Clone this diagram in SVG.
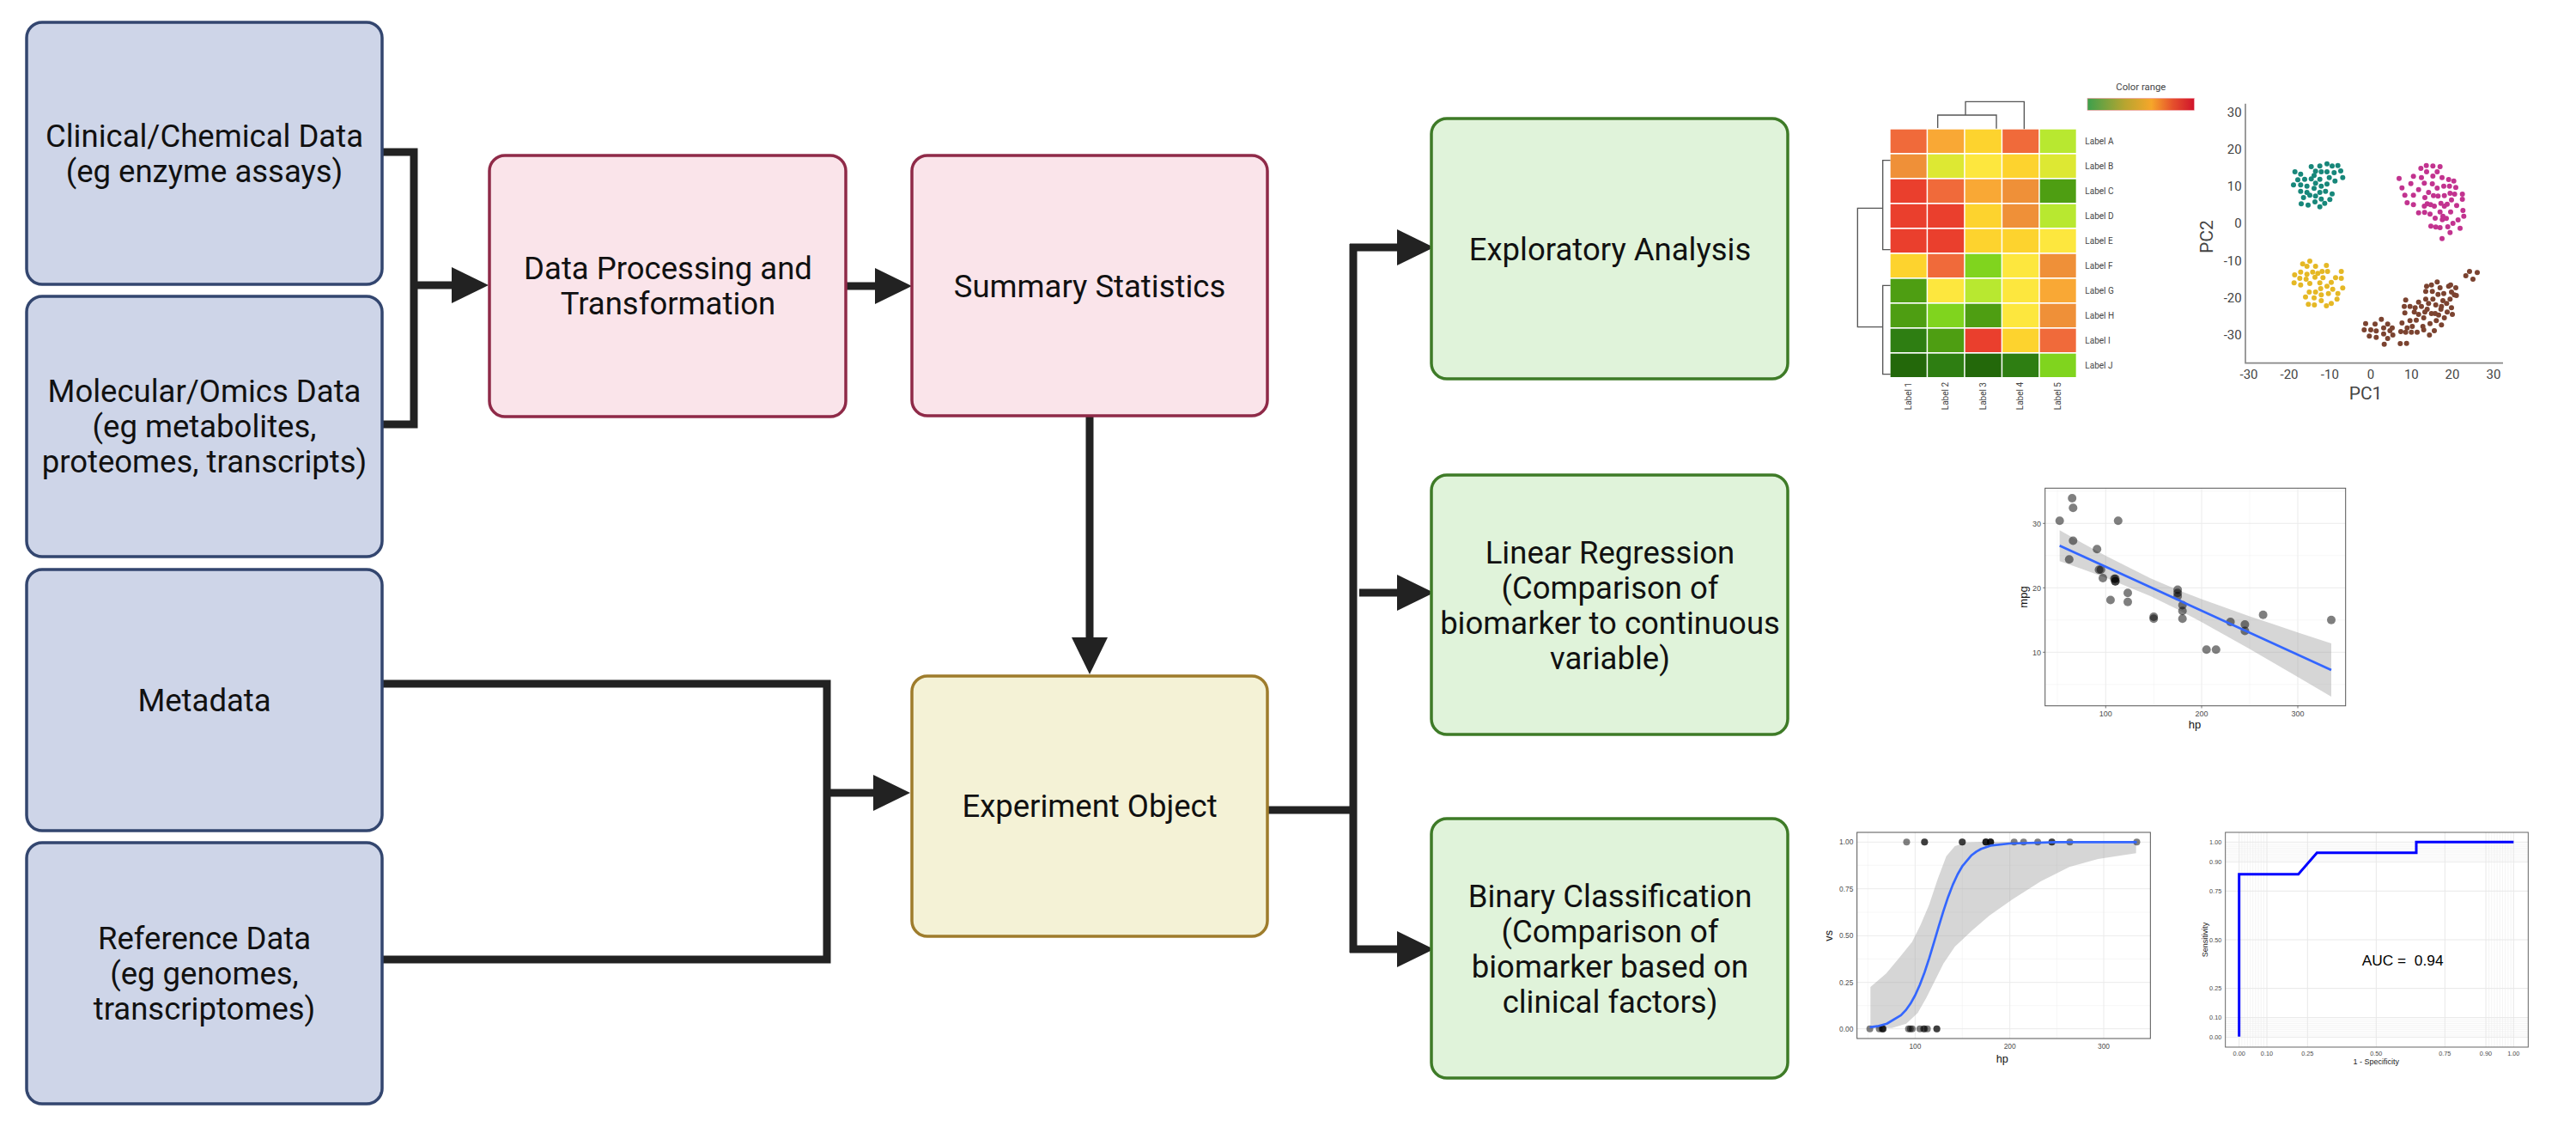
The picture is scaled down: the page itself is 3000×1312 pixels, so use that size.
<svg xmlns="http://www.w3.org/2000/svg" width="3000" height="1312" viewBox="0 0 3000 1312">
<defs>
<marker id="ah" markerUnits="userSpaceOnUse" markerWidth="44" markerHeight="44" refX="0" refY="21" orient="auto">
<path d="M0,0 L43,21 L0,42 Z" fill="#222"/>
</marker>
<linearGradient id="cr" x1="0" y1="0" x2="1" y2="0">
<stop offset="0" stop-color="#3DA04C"/>
<stop offset="0.35" stop-color="#B7A530"/>
<stop offset="0.6" stop-color="#F6A62A"/>
<stop offset="0.8" stop-color="#E5502C"/>
<stop offset="1" stop-color="#D0142C"/>
</linearGradient>
</defs>
<style>
.nt{font-family:Roboto,"Liberation Sans",sans-serif;font-size:36.5px;fill:#111;text-anchor:middle}
.blue{fill:#CED5E8;stroke:#33466F;stroke-width:3.5}
.pink{fill:#FAE4EA;stroke:#8F2A48;stroke-width:3.5}
.yel{fill:#F4F2D6;stroke:#9E7C2C;stroke-width:3.5}
.grn{fill:#E0F3DA;stroke:#3E7B27;stroke-width:3.5}
.con{fill:none;stroke:#222;stroke-width:9}
.ar{fill:none;stroke:#222;stroke-width:9;marker-end:url(#ah)}
.lab{font-family:Roboto,"Liberation Sans",sans-serif;fill:#444}
.tk{font-family:"Liberation Sans",Arial,sans-serif;fill:#4D4D4D}
.dg{fill:none;stroke:#555;stroke-width:4}
.gmaj{stroke:#EBEBEB;stroke-width:1}
.teal{fill:#17877A}.mag{fill:#C2338F}.yd{fill:#E5B825}.br{fill:#7B4330}
.pt{fill:#000;fill-opacity:0.5}
</style>

<g id="connectors">
<path class="con" d="M445,177 H482 V494 H445"/>
<path class="ar" d="M478,332 H526"/>
<path class="ar" d="M985,333 H1019"/>
<path class="ar" d="M1269,485 V742"/>
<path class="con" d="M445,796 H963 V1117 H445"/>
<path class="ar" d="M959,923 H1017"/>
<path class="con" d="M1477,943 H1576"/>
<path class="con" d="M1576,284 V1109"/>
<path class="ar" d="M1572,288 H1627"/>
<path class="ar" d="M1583,690 H1627"/>
<path class="ar" d="M1572,1105 H1627"/>
</g>

<g id="node-clinical">
<rect class="blue" x="31" y="26" width="414" height="305" rx="18"/>
<text class="nt" x="238" y="171">Clinical/Chemical Data</text>
<text class="nt" x="238" y="212">(eg enzyme assays)</text>
</g>
<g id="node-molecular">
<rect class="blue" x="31" y="345" width="414" height="303" rx="18"/>
<text class="nt" x="238" y="468">Molecular/Omics Data</text>
<text class="nt" x="238" y="509">(eg metabolites,</text>
<text class="nt" x="238" y="550">proteomes, transcripts)</text>
</g>
<g id="node-metadata">
<rect class="blue" x="31" y="663" width="414" height="304" rx="18"/>
<text class="nt" x="238" y="828">Metadata</text>
</g>
<g id="node-reference">
<rect class="blue" x="31" y="981" width="414" height="304" rx="18"/>
<text class="nt" x="238" y="1105">Reference Data</text>
<text class="nt" x="238" y="1146">(eg genomes,</text>
<text class="nt" x="238" y="1187">transcriptomes)</text>
</g>
<g id="node-processing">
<rect class="pink" x="570" y="181" width="415" height="304" rx="18"/>
<text class="nt" x="778" y="325">Data Processing and</text>
<text class="nt" x="778" y="366">Transformation</text>
</g>
<g id="node-summary">
<rect class="pink" x="1062" y="181" width="414" height="303" rx="18"/>
<text class="nt" x="1269" y="346">Summary Statistics</text>
</g>
<g id="node-experiment">
<rect class="yel" x="1062" y="787" width="414" height="303" rx="18"/>
<text class="nt" x="1269" y="951">Experiment Object</text>
</g>
<g id="node-exploratory">
<rect class="grn" x="1667" y="138" width="415" height="303" rx="18"/>
<text class="nt" x="1875" y="303">Exploratory Analysis</text>
</g>
<g id="node-linear">
<rect class="grn" x="1667" y="553" width="415" height="302" rx="18"/>
<text class="nt" x="1875" y="656">Linear Regression</text>
<text class="nt" x="1875" y="697">(Comparison of</text>
<text class="nt" x="1875" y="738">biomarker to continuous</text>
<text class="nt" x="1875" y="779">variable)</text>
</g>
<g id="node-binary">
<rect class="grn" x="1667" y="953" width="415" height="302" rx="18"/>
<text class="nt" x="1875" y="1056">Binary Classification</text>
<text class="nt" x="1875" y="1097">(Comparison of</text>
<text class="nt" x="1875" y="1138">biomarker based on</text>
<text class="nt" x="1875" y="1179">clinical factors)</text>
</g>

<!-- Heatmap -->
<g id="heatmap" transform="translate(2120,80) scale(0.33333)">
<text class="lab" x="1120" y="76" font-size="34" text-anchor="middle">Color range</text>
<rect x="933" y="103" width="373" height="42" fill="url(#cr)" stroke="#F3A0A8" stroke-width="2"/>
<path class="dg" d="M410,207 V162 H615 V209 M507,162 V115 H712 V211"/>
<path class="dg" d="M245,320 H218 V632 H245 M245,757 H218 V1067 H245 M218,487 H130 V902 H218"/>
<g>
<rect x="245" y="212" width="126" height="82" fill="#F06A3A"/><rect x="375.5" y="212" width="126" height="82" fill="#F9A835"/><rect x="506" y="212" width="126" height="82" fill="#FDD32E"/><rect x="636.5" y="212" width="126" height="82" fill="#F06A3A"/><rect x="767" y="212" width="126" height="82" fill="#B8E830"/>
<rect x="245" y="299" width="126" height="82" fill="#EF9038"/><rect x="375.5" y="299" width="126" height="82" fill="#DDE833"/><rect x="506" y="299" width="126" height="82" fill="#FDE73E"/><rect x="636.5" y="299" width="126" height="82" fill="#FDD32E"/><rect x="767" y="299" width="126" height="82" fill="#DDE833"/>
<rect x="245" y="386" width="126" height="82" fill="#EA3F2D"/><rect x="375.5" y="386" width="126" height="82" fill="#F06A3A"/><rect x="506" y="386" width="126" height="82" fill="#F9A835"/><rect x="636.5" y="386" width="126" height="82" fill="#EF9038"/><rect x="767" y="386" width="126" height="82" fill="#4E9E12"/>
<rect x="245" y="473" width="126" height="82" fill="#EA3F2D"/><rect x="375.5" y="473" width="126" height="82" fill="#EA3F2D"/><rect x="506" y="473" width="126" height="82" fill="#FDD32E"/><rect x="636.5" y="473" width="126" height="82" fill="#EF9038"/><rect x="767" y="473" width="126" height="82" fill="#B8E830"/>
<rect x="245" y="560" width="126" height="82" fill="#EA3F2D"/><rect x="375.5" y="560" width="126" height="82" fill="#EA3F2D"/><rect x="506" y="560" width="126" height="82" fill="#FDD32E"/><rect x="636.5" y="560" width="126" height="82" fill="#FDD32E"/><rect x="767" y="560" width="126" height="82" fill="#FDE73E"/>
<rect x="245" y="647" width="126" height="82" fill="#FDD32E"/><rect x="375.5" y="647" width="126" height="82" fill="#F06A3A"/><rect x="506" y="647" width="126" height="82" fill="#80D41E"/><rect x="636.5" y="647" width="126" height="82" fill="#FDE73E"/><rect x="767" y="647" width="126" height="82" fill="#EF9038"/>
<rect x="245" y="734" width="126" height="82" fill="#4E9E12"/><rect x="375.5" y="734" width="126" height="82" fill="#FDE73E"/><rect x="506" y="734" width="126" height="82" fill="#B8E830"/><rect x="636.5" y="734" width="126" height="82" fill="#FDE73E"/><rect x="767" y="734" width="126" height="82" fill="#F9A835"/>
<rect x="245" y="821" width="126" height="82" fill="#4E9E12"/><rect x="375.5" y="821" width="126" height="82" fill="#80D41E"/><rect x="506" y="821" width="126" height="82" fill="#4E9E12"/><rect x="636.5" y="821" width="126" height="82" fill="#FDE73E"/><rect x="767" y="821" width="126" height="82" fill="#EF9038"/>
<rect x="245" y="908" width="126" height="82" fill="#2E7E12"/><rect x="375.5" y="908" width="126" height="82" fill="#4E9E12"/><rect x="506" y="908" width="126" height="82" fill="#EA3F2D"/><rect x="636.5" y="908" width="126" height="82" fill="#FDD32E"/><rect x="767" y="908" width="126" height="82" fill="#F06A3A"/>
<rect x="245" y="995" width="126" height="82" fill="#23680A"/><rect x="375.5" y="995" width="126" height="82" fill="#2E7E12"/><rect x="506" y="995" width="126" height="82" fill="#23680A"/><rect x="636.5" y="995" width="126" height="82" fill="#2E7E12"/><rect x="767" y="995" width="126" height="82" fill="#80D41E"/>
</g>
<g class="lab" font-size="30">
<text x="925" y="264">Label A</text>
<text x="925" y="351">Label B</text>
<text x="925" y="438">Label C</text>
<text x="925" y="525">Label D</text>
<text x="925" y="612">Label E</text>
<text x="925" y="699">Label F</text>
<text x="925" y="786">Label G</text>
<text x="925" y="873">Label H</text>
<text x="925" y="960">Label I</text>
<text x="925" y="1047">Label J</text>
<text x="318" y="1095" text-anchor="end" transform="rotate(-90 318 1095)">Label 1</text>
<text x="448" y="1095" text-anchor="end" transform="rotate(-90 448 1095)">Label 2</text>
<text x="579" y="1095" text-anchor="end" transform="rotate(-90 579 1095)">Label 3</text>
<text x="709" y="1095" text-anchor="end" transform="rotate(-90 709 1095)">Label 4</text>
<text x="840" y="1095" text-anchor="end" transform="rotate(-90 840 1095)">Label 5</text>
</g>
</g>

<!-- PCA -->
<g id="pca" transform="translate(2540,100) scale(0.33333)">
<path d="M225,62 V968 H1125" fill="none" stroke="#888" stroke-width="5"/>
<g class="lab" font-size="45" fill="#555" text-anchor="end">
<text x="212" y="108">30</text><text x="212" y="238">20</text><text x="212" y="366">10</text><text x="212" y="496">0</text><text x="212" y="626">-10</text><text x="212" y="756">-20</text><text x="212" y="886">-30</text>
</g>
<g class="lab" font-size="45" fill="#555" text-anchor="middle">
<text x="237" y="1022">-30</text><text x="378" y="1022">-20</text><text x="520" y="1022">-10</text><text x="663" y="1022">0</text><text x="805" y="1022">10</text><text x="948" y="1022">20</text><text x="1092" y="1022">30</text>
</g>
<text class="lab" font-size="63" text-anchor="middle" x="110" y="527" transform="rotate(-90 110 527)">PC2</text>
<text class="lab" font-size="63" text-anchor="middle" x="645" y="1095">PC1</text>
<g class="teal">
<circle cx="398" cy="300" r="9"/><circle cx="418" cy="308" r="9"/><circle cx="455" cy="282" r="9"/><circle cx="485" cy="280" r="9"/><circle cx="510" cy="272" r="9"/><circle cx="528" cy="280" r="9"/><circle cx="548" cy="278" r="9"/><circle cx="558" cy="297" r="9"/><circle cx="565" cy="320" r="9"/><circle cx="470" cy="298" r="9"/><circle cx="490" cy="300" r="9"/><circle cx="510" cy="300" r="9"/><circle cx="535" cy="303" r="9"/><circle cx="408" cy="328" r="9"/><circle cx="432" cy="326" r="9"/><circle cx="455" cy="325" r="9"/><circle cx="465" cy="313" r="9"/><circle cx="485" cy="326" r="9"/><circle cx="518" cy="320" r="9"/><circle cx="538" cy="332" r="9"/><circle cx="393" cy="346" r="9"/><circle cx="418" cy="346" r="9"/><circle cx="440" cy="350" r="9"/><circle cx="470" cy="340" r="9"/><circle cx="490" cy="350" r="9"/><circle cx="510" cy="343" r="9"/><circle cx="418" cy="368" r="9"/><circle cx="440" cy="372" r="9"/><circle cx="465" cy="358" r="9"/><circle cx="485" cy="372" r="9"/><circle cx="505" cy="368" r="9"/><circle cx="528" cy="377" r="9"/><circle cx="428" cy="390" r="9"/><circle cx="450" cy="382" r="9"/><circle cx="470" cy="385" r="9"/><circle cx="490" cy="395" r="9"/><circle cx="520" cy="397" r="9"/><circle cx="420" cy="412" r="9"/><circle cx="444" cy="416" r="9"/><circle cx="468" cy="405" r="9"/><circle cx="485" cy="422" r="9"/><circle cx="502" cy="410" r="9"/>
</g>
<g class="mag">
<circle cx="762" cy="323" r="9"/><circle cx="772" cy="356" r="9"/><circle cx="790" cy="408" r="9"/><circle cx="782" cy="382" r="9"/><circle cx="803" cy="341" r="9"/><circle cx="812" cy="316" r="9"/><circle cx="812" cy="382" r="9"/><circle cx="812" cy="415" r="9"/><circle cx="830" cy="362" r="9"/><circle cx="830" cy="443" r="9"/><circle cx="838" cy="288" r="9"/><circle cx="840" cy="320" r="9"/><circle cx="850" cy="340" r="9"/><circle cx="852" cy="390" r="9"/><circle cx="851" cy="442" r="9"/><circle cx="857" cy="278" r="9"/><circle cx="858" cy="300" r="9"/><circle cx="860" cy="412" r="9"/><circle cx="865" cy="372" r="9"/><circle cx="870" cy="448" r="9"/><circle cx="873" cy="490" r="9"/><circle cx="880" cy="280" r="9"/><circle cx="880" cy="315" r="9"/><circle cx="878" cy="342" r="9"/><circle cx="882" cy="383" r="9"/><circle cx="885" cy="420" r="9"/><circle cx="888" cy="462" r="9"/><circle cx="890" cy="493" r="9"/><circle cx="895" cy="300" r="9"/><circle cx="895" cy="357" r="9"/><circle cx="898" cy="385" r="9"/><circle cx="905" cy="282" r="9"/><circle cx="905" cy="440" r="9"/><circle cx="905" cy="495" r="9"/><circle cx="908" cy="410" r="9"/><circle cx="912" cy="320" r="9"/><circle cx="913" cy="467" r="9"/><circle cx="918" cy="350" r="9"/><circle cx="920" cy="383" r="9"/><circle cx="920" cy="420" r="9"/><circle cx="927" cy="463" r="9"/><circle cx="930" cy="413" r="9"/><circle cx="932" cy="492" r="9"/><circle cx="935" cy="327" r="9"/><circle cx="938" cy="350" r="9"/><circle cx="940" cy="375" r="9"/><circle cx="942" cy="440" r="9"/><circle cx="945" cy="398" r="9"/><circle cx="950" cy="480" r="9"/><circle cx="953" cy="332" r="9"/><circle cx="956" cy="378" r="9"/><circle cx="960" cy="355" r="9"/><circle cx="963" cy="418" r="9"/><circle cx="968" cy="468" r="9"/><circle cx="975" cy="497" r="9"/><circle cx="983" cy="378" r="9"/><circle cx="983" cy="396" r="9"/><circle cx="985" cy="435" r="9"/><circle cx="988" cy="455" r="9"/><circle cx="940" cy="512" r="9"/><circle cx="912" cy="533" r="9"/><circle cx="872" cy="415" r="9"/><circle cx="850" cy="420" r="9"/><circle cx="915" cy="455" r="9"/>
</g>
<g class="yd">
<circle cx="450" cy="612" r="9"/><circle cx="425" cy="622" r="9"/><circle cx="440" cy="630" r="9"/><circle cx="470" cy="630" r="9"/><circle cx="508" cy="627" r="9"/><circle cx="493" cy="648" r="9"/><circle cx="460" cy="650" r="9"/><circle cx="440" cy="658" r="9"/><circle cx="418" cy="650" r="9"/><circle cx="397" cy="660" r="9"/><circle cx="395" cy="688" r="9"/><circle cx="415" cy="672" r="9"/><circle cx="418" cy="695" r="9"/><circle cx="437" cy="675" r="9"/><circle cx="450" cy="690" r="9"/><circle cx="468" cy="668" r="9"/><circle cx="478" cy="655" r="9"/><circle cx="485" cy="688" r="9"/><circle cx="496" cy="670" r="9"/><circle cx="512" cy="648" r="9"/><circle cx="525" cy="686" r="9"/><circle cx="540" cy="670" r="9"/><circle cx="560" cy="648" r="9"/><circle cx="560" cy="672" r="9"/><circle cx="565" cy="706" r="9"/><circle cx="548" cy="725" r="9"/><circle cx="530" cy="710" r="9"/><circle cx="510" cy="700" r="9"/><circle cx="488" cy="708" r="9"/><circle cx="470" cy="720" r="9"/><circle cx="448" cy="720" r="9"/><circle cx="435" cy="737" r="9"/><circle cx="465" cy="740" r="9"/><circle cx="490" cy="750" r="9"/><circle cx="508" cy="768" r="9"/><circle cx="525" cy="760" r="9"/><circle cx="545" cy="745" r="9"/><circle cx="445" cy="763" r="9"/><circle cx="466" cy="765" r="9"/><circle cx="490" cy="730" r="9"/><circle cx="515" cy="725" r="9"/>
</g>
<g class="br">
<circle cx="645" cy="830" r="9"/><circle cx="640" cy="852" r="9"/><circle cx="663" cy="852" r="9"/><circle cx="658" cy="874" r="9"/><circle cx="678" cy="832" r="9"/><circle cx="682" cy="856" r="9"/><circle cx="682" cy="878" r="9"/><circle cx="700" cy="815" r="9"/><circle cx="708" cy="845" r="9"/><circle cx="708" cy="866" r="9"/><circle cx="710" cy="902" r="9"/><circle cx="722" cy="832" r="9"/><circle cx="722" cy="882" r="9"/><circle cx="730" cy="855" r="9"/><circle cx="738" cy="845" r="9"/><circle cx="740" cy="870" r="9"/><circle cx="766" cy="900" r="9"/><circle cx="788" cy="899" r="9"/><circle cx="768" cy="858" r="9"/><circle cx="772" cy="828" r="9"/><circle cx="785" cy="860" r="9"/><circle cx="790" cy="845" r="9"/><circle cx="782" cy="793" r="9"/><circle cx="785" cy="748" r="9"/><circle cx="780" cy="770" r="9"/><circle cx="800" cy="770" r="9"/><circle cx="805" cy="860" r="9"/><circle cx="808" cy="840" r="9"/><circle cx="800" cy="820" r="9"/><circle cx="815" cy="790" r="9"/><circle cx="818" cy="775" r="9"/><circle cx="822" cy="818" r="9"/><circle cx="825" cy="860" r="9"/><circle cx="830" cy="798" r="9"/><circle cx="830" cy="755" r="9"/><circle cx="840" cy="770" r="9"/><circle cx="845" cy="840" r="9"/><circle cx="848" cy="852" r="9"/><circle cx="848" cy="810" r="9"/><circle cx="852" cy="790" r="9"/><circle cx="855" cy="745" r="9"/><circle cx="855" cy="718" r="9"/><circle cx="858" cy="700" r="9"/><circle cx="860" cy="780" r="9"/><circle cx="865" cy="760" r="9"/><circle cx="868" cy="870" r="9"/><circle cx="870" cy="830" r="9"/><circle cx="875" cy="695" r="9"/><circle cx="875" cy="795" r="9"/><circle cx="878" cy="718" r="9"/><circle cx="880" cy="745" r="9"/><circle cx="885" cy="855" r="9"/><circle cx="890" cy="765" r="9"/><circle cx="892" cy="820" r="9"/><circle cx="895" cy="685" r="9"/><circle cx="898" cy="728" r="9"/><circle cx="900" cy="800" r="9"/><circle cx="905" cy="705" r="9"/><circle cx="908" cy="780" r="9"/><circle cx="910" cy="835" r="9"/><circle cx="915" cy="750" r="9"/><circle cx="918" cy="725" r="9"/><circle cx="920" cy="810" r="9"/><circle cx="928" cy="760" r="9"/><circle cx="930" cy="790" r="9"/><circle cx="935" cy="700" r="9"/><circle cx="940" cy="745" r="9"/><circle cx="942" cy="695" r="9"/><circle cx="945" cy="775" r="9"/><circle cx="945" cy="720" r="9"/><circle cx="948" cy="798" r="9"/><circle cx="955" cy="730" r="9"/><circle cx="960" cy="705" r="9"/><circle cx="962" cy="732" r="9"/><circle cx="995" cy="663" r="9"/><circle cx="1008" cy="648" r="9"/><circle cx="1020" cy="675" r="9"/><circle cx="1035" cy="652" r="9"/><circle cx="910" cy="770" r="9"/><circle cx="888" cy="795" r="9"/>
</g>
</g>

<!-- Linear regression plot -->
<g id="regression">
<g stroke="#F2F2F2" stroke-width="0.6">
<path d="M2396,568 V822 M2508.3,568 V822 M2620,568 V822 M2381.7,571.7 H2731.7 M2381.7,646.7 H2731.7 M2381.7,721.7 H2731.7 M2381.7,796.7 H2731.7"/>
</g>
<g class="gmaj">
<path d="M2452.3,568 V822 M2564,568 V822 M2676,568 V822 M2381.7,609.3 H2731.7 M2381.7,684.3 H2731.7 M2381.7,759.3 H2731.7"/>
</g>
<polygon fill="#999" fill-opacity="0.4" points="2398.65,617.16 2424.36,631.7 2452.3,647.03 2504.49,673.17 2536.13,686.8 2564.07,697.58 2619.96,717.38 2647.9,726.8 2675.84,736.14 2714.96,749.01 2714.96,810.96 2675.84,788.01 2647.9,771.7 2619.96,755.59 2564.07,724.22 2536.13,709.4 2504.49,694.07 2452.3,672.44 2424.36,662.2 2398.65,653.18"/>
<g class="pt">
<circle cx="2463.5" cy="676.8" r="5"/><circle cx="2463.5" cy="676.8" r="5"/><circle cx="2444.5" cy="663.3" r="5"/><circle cx="2463.5" cy="673.8" r="5"/><circle cx="2536.1" cy="694.05" r="5"/><circle cx="2457.9" cy="698.55" r="5"/><circle cx="2614.4" cy="727.05" r="5"/><circle cx="2409.8" cy="651.3" r="5"/><circle cx="2446.7" cy="663.3" r="5"/><circle cx="2478" cy="690.3" r="5"/><circle cx="2478" cy="700.8" r="5"/><circle cx="2541.7" cy="711.3" r="5"/><circle cx="2541.7" cy="704.55" r="5"/><circle cx="2541.7" cy="720.3" r="5"/><circle cx="2569.7" cy="756.3" r="5"/><circle cx="2580.8" cy="756.3" r="5"/><circle cx="2597.6" cy="724.05" r="5"/><circle cx="2414.3" cy="591.3" r="5"/><circle cx="2398.7" cy="606.3" r="5"/><circle cx="2413.2" cy="580.05" r="5"/><circle cx="2449" cy="673.05" r="5"/><circle cx="2508.2" cy="718.05" r="5"/><circle cx="2508.2" cy="720.3" r="5"/><circle cx="2614.4" cy="734.55" r="5"/><circle cx="2536.1" cy="690.3" r="5"/><circle cx="2414.3" cy="629.55" r="5"/><circle cx="2442.2" cy="639.3" r="5"/><circle cx="2466.8" cy="606.3" r="5"/><circle cx="2635.6" cy="715.8" r="5"/><circle cx="2536.1" cy="686.55" r="5"/><circle cx="2715" cy="721.8" r="5"/><circle cx="2462.4" cy="673.8" r="5"/>
</g>
<line x1="2398.65" y1="635.17" x2="2714.96" y2="780" stroke="#3366FF" stroke-width="2.7"/>
<rect x="2381.7" y="568.3" width="350" height="253.4" fill="none" stroke="#555" stroke-width="1"/>
<g stroke="#555" stroke-width="0.8">
<path d="M2379,609.3 H2381.7 M2379,684.3 H2381.7 M2379,759.3 H2381.7 M2452.3,821.7 V824.5 M2564,821.7 V824.5 M2676,821.7 V824.5"/>
</g>
<g class="tk" font-size="9" text-anchor="end">
<text x="2377" y="612.5">30</text><text x="2377" y="687.5">20</text><text x="2377" y="762.5">10</text>
</g>
<g class="tk" font-size="9" text-anchor="middle">
<text x="2452.3" y="834">100</text><text x="2564" y="834">200</text><text x="2676" y="834">300</text>
</g>
<text class="tk" font-size="13" text-anchor="middle" x="2556" y="848" style="fill:#111">hp</text>
<text class="tk" font-size="13" text-anchor="middle" x="2361" y="695" transform="rotate(-90 2361 695)" style="fill:#111">mpg</text>
</g>

<!-- Logistic regression plot -->
<g id="logistic" transform="translate(2110,950) scale(0.33333)">
<g stroke="#F2F2F2" stroke-width="1.8">
<path d="M196,57 V777 M526,57 V777 M856,57 V777 M158,172 H1183 M158,336 H1183 M158,499 H1183 M158,662 H1183"/>
</g>
<g stroke="#EBEBEB" stroke-width="3">
<path d="M361,57 V777 M692,57 V777 M1020,57 V777 M158,91 H1183 M158,254 H1183 M158,418 H1183 M158,581 H1183 M158,743 H1183"/>
</g>
<polygon fill="#999" fill-opacity="0.4" points="205,597 260,550 310,490 350,440 380,380 410,310 440,220 470,140 500,105 540,92 600,90 1133,90 1133,130 1000,150 900,178 800,228 700,292 620,348 560,400 500,456 460,515 430,575 400,635 370,688 330,725 280,740 205,742"/>
<g class="pt">
<circle cx="331.3" cy="91" r="12"/><circle cx="394" cy="91" r="12"/><circle cx="394" cy="91" r="12"/><circle cx="525.8" cy="91" r="12"/><circle cx="525.8" cy="91" r="12"/><circle cx="608.2" cy="91" r="12"/><circle cx="608.2" cy="91" r="12"/><circle cx="608.2" cy="91" r="12"/><circle cx="624.6" cy="91" r="12"/><circle cx="624.6" cy="91" r="12"/><circle cx="624.6" cy="91" r="12"/><circle cx="707" cy="91" r="12"/><circle cx="740" cy="91" r="12"/><circle cx="789.4" cy="91" r="12"/><circle cx="838.8" cy="91" r="12"/><circle cx="838.8" cy="91" r="12"/><circle cx="901.5" cy="91" r="12"/><circle cx="1135.4" cy="91" r="12"/>
<circle cx="202.8" cy="743" r="12"/><circle cx="235.8" cy="743" r="12"/><circle cx="245.7" cy="743" r="12"/><circle cx="249" cy="743" r="12"/><circle cx="249" cy="743" r="12"/><circle cx="337.9" cy="743" r="12"/><circle cx="344.5" cy="743" r="12"/><circle cx="351.1" cy="743" r="12"/><circle cx="377.5" cy="743" r="12"/><circle cx="390.7" cy="743" r="12"/><circle cx="394" cy="743" r="12"/><circle cx="403.8" cy="743" r="12"/><circle cx="436.8" cy="743" r="12"/><circle cx="436.8" cy="743" r="12"/>
</g>
<polyline fill="none" stroke="#3366FF" stroke-width="8" stroke-linejoin="round" points="202.8,737.8 229.2,734 262.1,725.3 311.6,695.8 328,678.5 344.5,655.6 361,626.2 377.5,589.6 394,545.9 410.4,495.9 426.9,441.5 443.4,385.8 459.9,331.9 476.3,282.5 492.8,239.6 509.3,203.9 525.8,175.4 558.7,136.4 575.2,124 591.7,114.7 624.6,103.2 690.5,96.1 855.3,91.1 1135.4,91"/>
<rect x="158" y="57" width="1025" height="720" fill="none" stroke="#555" stroke-width="3"/>
<g class="tk" font-size="25" text-anchor="end">
<text x="145" y="100">1.00</text><text x="145" y="263">0.75</text><text x="145" y="427">0.50</text><text x="145" y="590">0.25</text><text x="145" y="752">0.00</text>
</g>
<g class="tk" font-size="25" text-anchor="middle">
<text x="361" y="812">100</text><text x="692" y="812">200</text><text x="1020" y="812">300</text>
</g>
<text class="tk" font-size="38" text-anchor="middle" x="665" y="862" style="fill:#111">hp</text>
<text class="tk" font-size="38" text-anchor="middle" x="72" y="418" transform="rotate(-90 72 418)" style="fill:#111">vs</text>
</g>

<!-- ROC plot -->
<g id="roc" transform="translate(2560,950) scale(0.33333)">
<g stroke="#EFEFEF" stroke-width="2">
<path d="M152.6,57 V807 M162.2,57 V807 M171.8,57 V807 M181.4,57 V807 M191,57 V807 M200.5,57 V807 M210.1,57 V807 M219.7,57 V807 M229.3,57 V807 M1015.7,57 V807 M1025.3,57 V807 M1034.9,57 V807 M1044.5,57 V807 M1054,57 V807 M1063.6,57 V807 M1073.2,57 V807 M1082.8,57 V807 M1092.4,57 V807"/>
<path d="M95,765.2 H1153 M95,758.4 H1153 M95,751.6 H1153 M95,744.8 H1153 M95,738 H1153 M95,731.1 H1153 M95,724.3 H1153 M95,717.5 H1153 M95,710.7 H1153 M95,153.2 H1153 M95,146.4 H1153 M95,139.6 H1153 M95,132.8 H1153 M95,126 H1153 M95,119.1 H1153 M95,112.3 H1153 M95,105.5 H1153 M95,98.7 H1153"/>
</g>
<g stroke="#E8E8E8" stroke-width="3">
<path d="M143,57 V807 M240,57 V807 M382,57 V807 M622,57 V807 M862,57 V807 M1005,57 V807 M1102,57 V807 M95,91 H1153 M95,160 H1153 M95,262 H1153 M95,432 H1153 M95,602 H1153 M95,704 H1153 M95,772 H1153"/>
</g>
<path d="M143,770 V203 H350 L415,128 H762 V91 H1102" fill="none" stroke="#0000FF" stroke-width="9"/>
<rect x="95" y="57" width="1058" height="750" fill="none" stroke="#666" stroke-width="3"/>
<g class="tk" font-size="22" text-anchor="end">
<text x="82" y="99">1.00</text><text x="82" y="168">0.90</text><text x="82" y="270">0.75</text><text x="82" y="440">0.50</text><text x="82" y="610">0.25</text><text x="82" y="712">0.10</text><text x="82" y="780">0.00</text>
</g>
<g class="tk" font-size="22" text-anchor="middle">
<text x="143" y="836">0.00</text><text x="240" y="836">0.10</text><text x="382" y="836">0.25</text><text x="622" y="836">0.50</text><text x="862" y="836">0.75</text><text x="1005" y="836">0.90</text><text x="1102" y="836">1.00</text>
</g>
<text class="tk" font-size="27" text-anchor="middle" x="622" y="867" style="fill:#222">1 - Specificity</text>
<text class="tk" font-size="27" text-anchor="middle" x="34" y="432" transform="rotate(-90 34 432)" style="fill:#222">Sensitivity</text>
<text class="tk" font-size="52" x="572" y="521" xml:space="preserve" style="fill:#000">AUC =  0.94</text>
</g>
</svg>
